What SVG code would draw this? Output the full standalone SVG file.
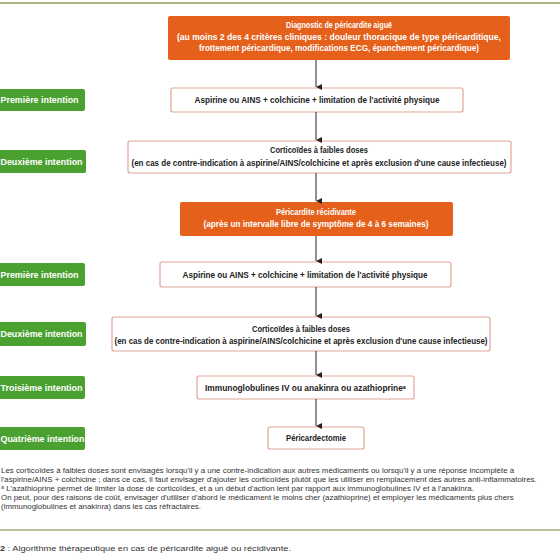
<svg xmlns="http://www.w3.org/2000/svg" width="560" height="560" viewBox="0 0 560 560">
<defs>
<marker id="arr" markerUnits="userSpaceOnUse" markerWidth="6" markerHeight="6" refX="3" refY="6" orient="auto-start-reverse" viewBox="0 0 6 6">
<path d="M0,0 L6,0 L3,6 Z" fill="#222"/>
</marker>
</defs>
<style>
.orange{fill:#e5601b;}
.wbox{fill:#fff;stroke:#e3a597;stroke-width:1.2;}
.gbox{fill:#4aa12f;}
.tw{font-family:"Liberation Sans","DejaVu Sans",Arial,sans-serif;font-weight:bold;font-size:8.5px;fill:#fff;text-anchor:middle;}
.tb{font-family:"Liberation Sans","DejaVu Sans",Arial,sans-serif;font-weight:bold;font-size:8.5px;fill:#222;text-anchor:middle;}
.tl{font-family:"Liberation Sans","DejaVu Sans",Arial,sans-serif;font-weight:bold;font-size:8.5px;fill:#fff;text-anchor:middle;}
.fn{font-family:"Liberation Sans","DejaVu Sans",Arial,sans-serif;font-size:7.9px;fill:#333;}
.conn line{stroke:#222;stroke-width:1;}
</style>
<rect width="560" height="560" fill="#fff"/>
<line x1="0" y1="3" x2="560" y2="3" stroke="#8a9c5a" stroke-width="1.5"/>

<g id="n-diag">
<rect class="orange" x="168" y="16" width="342" height="44" rx="2"/>
<text class="tw" x="339" y="28" textLength="106" lengthAdjust="spacingAndGlyphs">Diagnostic de péricardite aiguë</text>
<text class="tw" x="339" y="40" textLength="324" lengthAdjust="spacingAndGlyphs">(au moins 2 des 4 critères cliniques : douleur thoracique de type péricarditique,</text>
<text class="tw" x="339" y="51" textLength="280" lengthAdjust="spacingAndGlyphs">frottement péricardique, modifications ECG, épanchement péricardique)</text>
</g>

<g id="n-asp1">
<rect class="wbox" x="171" y="88" width="292" height="24" rx="2"/>
<text class="tb" x="317" y="103" textLength="245" lengthAdjust="spacingAndGlyphs">Aspirine ou AINS + colchicine + limitation de l'activité physique</text>
</g>

<g id="n-cort1">
<rect class="wbox" x="128" y="141" width="383" height="32" rx="2"/>
<text class="tb" x="319" y="153" textLength="98" lengthAdjust="spacingAndGlyphs">Corticoïdes à faibles doses</text>
<text class="tb" x="319" y="166" textLength="375" lengthAdjust="spacingAndGlyphs">(en cas de contre-indication à aspirine/AINS/colchicine et après exclusion d'une cause infectieuse)</text>
</g>

<g id="n-recid">
<rect class="orange" x="180" y="202" width="273" height="34" rx="2"/>
<text class="tw" x="316" y="215" textLength="80" lengthAdjust="spacingAndGlyphs">Péricardite récidivante</text>
<text class="tw" x="316" y="227" textLength="225" lengthAdjust="spacingAndGlyphs">(après un intervalle libre de symptôme de 4 à 6 semaines)</text>
</g>

<g id="n-asp2">
<rect class="wbox" x="160" y="262" width="291" height="25" rx="2"/>
<text class="tb" x="305" y="278" textLength="245" lengthAdjust="spacingAndGlyphs">Aspirine ou AINS + colchicine + limitation de l'activité physique</text>
</g>

<g id="n-cort2">
<rect class="wbox" x="112" y="317" width="378" height="34" rx="2"/>
<text class="tb" x="301" y="332" textLength="98" lengthAdjust="spacingAndGlyphs">Corticoïdes à faibles doses</text>
<text class="tb" x="301" y="344" textLength="373" lengthAdjust="spacingAndGlyphs">(en cas de contre-indication à aspirine/AINS/colchicine et après exclusion d'une cause infectieuse)</text>
</g>

<g id="n-immuno">
<rect class="wbox" x="197" y="376" width="217" height="23" rx="2"/>
<text class="tb" x="305.5" y="391" textLength="201" lengthAdjust="spacingAndGlyphs">Immunoglobulines IV ou anakinra ou azathioprineᵃ</text>
</g>

<g id="n-peric">
<rect class="wbox" x="268" y="427" width="96" height="22" rx="2"/>
<text class="tb" x="316" y="441" textLength="60" lengthAdjust="spacingAndGlyphs">Péricardectomie</text>
</g>

<g id="l-prem1">
<rect class="gbox" x="-5" y="89" width="90" height="22" rx="2"/>
<text class="tl" x="39.5" y="103" textLength="78" lengthAdjust="spacingAndGlyphs">Première intention</text>
</g>
<g id="l-deux1">
<rect class="gbox" x="-5" y="150" width="91" height="23" rx="2"/>
<text class="tl" x="41.5" y="164.5" textLength="82" lengthAdjust="spacingAndGlyphs">Deuxième intention</text>
</g>
<g id="l-prem2">
<rect class="gbox" x="-5" y="263" width="90" height="23" rx="2"/>
<text class="tl" x="39.5" y="277.5" textLength="78" lengthAdjust="spacingAndGlyphs">Première intention</text>
</g>
<g id="l-deux2">
<rect class="gbox" x="-5" y="322" width="91" height="24" rx="2"/>
<text class="tl" x="41.5" y="337" textLength="82" lengthAdjust="spacingAndGlyphs">Deuxième intention</text>
</g>
<g id="l-trois">
<rect class="gbox" x="-5" y="376" width="90" height="23" rx="2"/>
<text class="tl" x="41.5" y="390.5" textLength="82" lengthAdjust="spacingAndGlyphs">Troisième intention</text>
</g>
<g id="l-quat">
<rect class="gbox" x="-5" y="427" width="90" height="23" rx="2"/>
<text class="tl" x="42.5" y="441.5" textLength="84" lengthAdjust="spacingAndGlyphs">Quatrième intention</text>
</g>

<g class="conn" id="connectors">
<line x1="316" y1="60" x2="316" y2="87" marker-end="url(#arr)"/>
<line x1="316" y1="112" x2="316" y2="140" marker-end="url(#arr)"/>
<line x1="316" y1="173" x2="316" y2="201" marker-end="url(#arr)"/>
<line x1="316" y1="236" x2="316" y2="261" marker-end="url(#arr)"/>
<line x1="316" y1="287" x2="316" y2="316" marker-end="url(#arr)"/>
<line x1="316" y1="351" x2="316" y2="375" marker-end="url(#arr)"/>
<line x1="316" y1="399" x2="316" y2="426" marker-end="url(#arr)"/>
</g>

<g id="footnotes">
<text class="fn" x="1" y="473">Les corticoïdes à faibles doses sont envisagés lorsqu'il y a une contre-indication aux autres médicaments ou lorsqu'il y a une réponse incomplète à</text>
<text class="fn" x="1" y="482">l'aspirine/AINS + colchicine ; dans ce cas, il faut envisager d'ajouter les corticoïdes plutôt que les utiliser en remplacement des autres anti-inflammatoires.</text>
<text class="fn" x="1" y="491">ᵃ L'azathioprine permet de limiter la dose de corticoïdes, et a un début d'action lent par rapport aux immunoglobulines IV et à l'anakinra.</text>
<text class="fn" x="1" y="500">On peut, pour des raisons de coût, envisager d'utiliser d'abord le médicament le moins cher (azathioprine) et employer les médicaments plus chers</text>
<text class="fn" x="1" y="509">(immunoglobulines et anakinra) dans les cas réfractaires.</text>
</g>
<line x1="0" y1="530" x2="560" y2="530" stroke="#b8c396" stroke-width="2"/>
<text class="fn" x="0" y="551" style="font-size:7.8px" textLength="291" lengthAdjust="spacingAndGlyphs"><tspan font-weight="bold">2</tspan> : Algorithme thérapeutique en cas de péricardite aiguë ou récidivante.</text>
</svg>
